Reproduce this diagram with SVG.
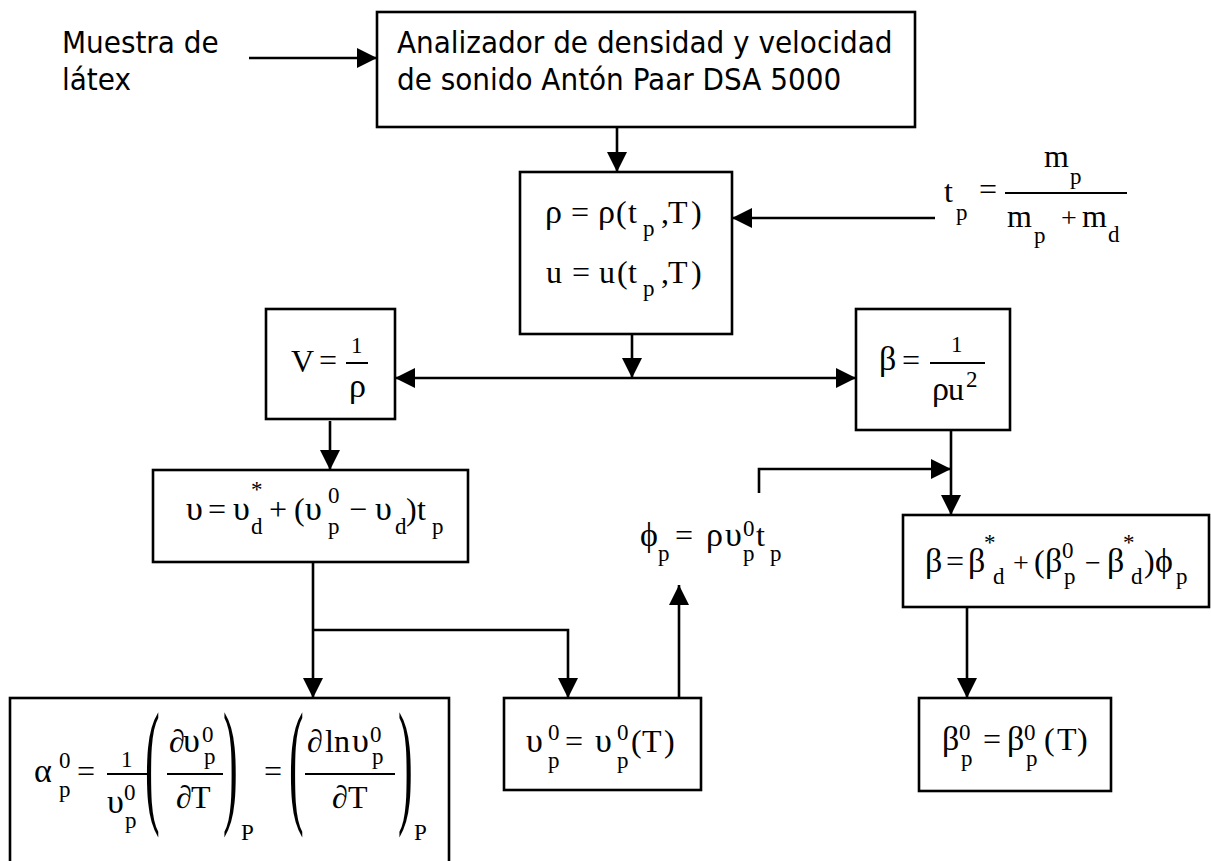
<svg xmlns="http://www.w3.org/2000/svg" width="1211" height="861" viewBox="0 0 1211 861">
  <style>
    .box { fill: #fff; stroke: #000; stroke-width: 2.6; }
    .ln { fill: none; stroke: #000; stroke-width: 2.6; }
    .fr { stroke: #000; stroke-width: 2; }
    .arr { marker-end: url(#ah); }
    .t { font-family: "DejaVu Sans Condensed", "DejaVu Sans", sans-serif; font-size: 31px; fill: #000; }
    .m { font-family: "Liberation Serif", "Times New Roman", serif; font-size: 32px; fill: #000; }
    .g { font-size: 34px; }
    .s { font-size: 23px; }
    .op { font-size: 28px; }
    .big { font-family: "Liberation Serif", "Times New Roman", serif; font-size: 138px; fill: #000; }
  </style>
  <defs>
    <marker id="ah" viewBox="0 0 20 20" markerWidth="20" markerHeight="20" refX="20" refY="10" orient="auto" markerUnits="userSpaceOnUse">
      <path d="M0,0 L20,10 L0,20 z" fill="#000"/>
    </marker>
  </defs>
  <rect x="0" y="0" width="1211" height="861" fill="#fff"/>

  <!-- connectors -->
  <g id="connectors">
    <line class="ln arr" x1="249" y1="58" x2="377" y2="58"/>
    <line class="ln arr" x1="617" y1="127" x2="617" y2="172"/>
    <line class="ln arr" x1="935" y1="218" x2="732" y2="218"/>
    <line class="ln arr" x1="632" y1="334" x2="632" y2="378"/>
    <line class="ln arr" x1="632" y1="378" x2="395" y2="378"/>
    <line class="ln arr" x1="632" y1="378" x2="856" y2="378"/>
    <line class="ln arr" x1="330" y1="421" x2="330" y2="470"/>
    <line class="ln arr" x1="313" y1="562" x2="313" y2="698"/>
    <polyline class="ln arr" points="313,630 568,630 568,698"/>
    <line class="ln arr" x1="679" y1="698" x2="679" y2="585"/>
    <polyline class="ln arr" points="759,493 759,469 951,469"/>
    <line class="ln arr" x1="951" y1="423" x2="951" y2="515"/>
    <line class="ln arr" x1="967" y1="607" x2="967" y2="698"/>
  </g>

  <!-- sample input label -->
  <g id="muestra">
    <text class="t" x="62" y="53">Muestra de</text>
    <text class="t" x="62" y="90">látex</text>
  </g>

  <!-- analyser -->
  <g id="analizador">
    <rect class="box" x="377" y="12" width="538" height="115"/>
    <text class="t" x="397" y="53">Analizador de densidad y velocidad</text>
    <text class="t" x="397" y="90">de sonido Antón Paar DSA 5000</text>
  </g>

  <!-- mass fraction -->
  <g id="tp">
    <text class="m">
      <tspan x="944" y="202">t</tspan>
      <tspan class="s" x="956" y="220">p</tspan>
      <tspan x="979" y="200">=</tspan>
      <tspan x="1044" y="167">m</tspan>
      <tspan class="s" x="1070" y="184">p</tspan>
      <tspan x="1007" y="227">m</tspan>
      <tspan class="s" x="1034" y="243">p</tspan>
      <tspan class="op" x="1061" y="227">+</tspan>
      <tspan x="1082" y="227">m</tspan>
      <tspan class="s" x="1108" y="242">d</tspan>
    </text>
    <line class="fr" x1="1005" y1="193" x2="1127" y2="193"/>
  </g>

  <!-- density and speed of sound -->
  <g id="rho-u">
    <rect class="box" x="520" y="172" width="212" height="162"/>
    <text class="m">
      <tspan class="g" x="545" y="223">ρ</tspan>
      <tspan x="571" y="223">=</tspan>
      <tspan class="g" x="598" y="223">ρ</tspan>
      <tspan x="616" y="223">(</tspan>
      <tspan x="628" y="223">t</tspan>
      <tspan class="s" x="643" y="236">p</tspan>
      <tspan x="661" y="223">,</tspan>
      <tspan x="668" y="223">T</tspan>
      <tspan x="691" y="223">)</tspan>
    </text>
    <text class="m">
      <tspan x="546" y="283">u</tspan>
      <tspan x="572" y="283">=</tspan>
      <tspan x="599" y="283">u</tspan>
      <tspan x="617" y="283">(</tspan>
      <tspan x="628" y="283">t</tspan>
      <tspan class="s" x="643" y="296">p</tspan>
      <tspan x="661" y="283">,</tspan>
      <tspan x="668" y="283">T</tspan>
      <tspan x="691" y="283">)</tspan>
    </text>
  </g>

  <!-- specific volume -->
  <g id="volumen">
    <rect class="box" x="266" y="309" width="129" height="110"/>
    <text class="m">
      <tspan x="291" y="372">V</tspan>
      <tspan x="319" y="371">=</tspan>
      <tspan class="s" x="351" y="353">1</tspan>
      <tspan class="g" x="349" y="397">ρ</tspan>
    </text>
    <line class="fr" x1="346" y1="363" x2="368" y2="363"/>
  </g>

  <!-- compressibility -->
  <g id="beta">
    <rect class="box" x="856" y="309" width="154" height="121"/>
    <text class="m">
      <tspan class="g" x="879" y="370">β</tspan>
      <tspan x="902" y="371">=</tspan>
      <tspan class="s" x="951" y="352">1</tspan>
      <tspan class="g" x="932" y="400">ρ</tspan>
      <tspan x="948" y="400">u</tspan>
      <tspan class="s" x="966" y="387">2</tspan>
    </text>
    <line class="fr" x1="930" y1="363" x2="985" y2="363"/>
  </g>

  <!-- specific volume of the mixture -->
  <g id="upsilon">
    <rect class="box" x="153" y="470" width="315" height="92"/>
    <text class="m">
      <tspan class="g" x="186" y="520">υ</tspan>
      <tspan x="208" y="520">=</tspan>
      <tspan class="g" x="233" y="520">υ</tspan>
      <tspan class="s" x="251" y="497">*</tspan>
      <tspan class="s" x="251" y="534">d</tspan>
      <tspan x="269" y="520">+</tspan>
      <tspan x="294" y="520">(</tspan>
      <tspan class="g" x="305" y="520">υ</tspan>
      <tspan class="s" x="328" y="503">0</tspan>
      <tspan class="s" x="328" y="534">p</tspan>
      <tspan x="349" y="520">−</tspan>
      <tspan class="g" x="375" y="520">υ</tspan>
      <tspan class="s" x="395" y="534">d</tspan>
      <tspan x="406" y="520">)</tspan>
      <tspan x="417" y="520">t</tspan>
      <tspan class="s" x="432" y="534">p</tspan>
    </text>
  </g>

  <!-- volume fraction -->
  <g id="phi">
    <text class="m">
      <tspan class="g" x="640" y="546">ϕ</tspan>
      <tspan class="s" x="658" y="561">p</tspan>
      <tspan x="675" y="546">=</tspan>
      <tspan class="g" x="706" y="546">ρ</tspan>
      <tspan class="g" x="725" y="546">υ</tspan>
      <tspan class="s" x="743" y="536">0</tspan>
      <tspan class="s" x="743" y="561">p</tspan>
      <tspan x="756" y="546">t</tspan>
      <tspan class="s" x="770" y="561">p</tspan>
    </text>
  </g>

  <!-- compressibility of the mixture -->
  <g id="beta-mezcla">
    <rect class="box" x="903" y="515" width="306" height="92"/>
    <text class="m">
      <tspan class="g" x="925" y="572">β</tspan>
      <tspan x="946" y="572">=</tspan>
      <tspan class="g" x="968" y="572">β</tspan>
      <tspan class="s" x="984" y="550">*</tspan>
      <tspan class="s" x="993" y="584">d</tspan>
      <tspan class="op" x="1013" y="572">+</tspan>
      <tspan x="1034" y="572">(</tspan>
      <tspan class="g" x="1045" y="572">β</tspan>
      <tspan class="s" x="1062" y="558">0</tspan>
      <tspan class="s" x="1064" y="584">p</tspan>
      <tspan class="op" x="1085" y="572">−</tspan>
      <tspan class="g" x="1107" y="572">β</tspan>
      <tspan class="s" x="1123" y="550">*</tspan>
      <tspan class="s" x="1131" y="584">d</tspan>
      <tspan x="1144" y="572">)</tspan>
      <tspan class="g" x="1155" y="572">ϕ</tspan>
      <tspan class="s" x="1176" y="584">p</tspan>
    </text>
  </g>

  <!-- thermal expansion coefficient -->
  <g id="alfa">
    <rect class="box" x="10" y="698" width="439" height="175"/>
    <text class="m">
      <tspan class="g" x="34" y="782">α</tspan>
      <tspan class="s" x="59" y="768">0</tspan>
      <tspan class="s" x="59" y="797">p</tspan>
      <tspan x="77" y="782">=</tspan>
      <tspan class="s" x="121" y="767">1</tspan>
      <tspan class="g" x="107" y="813">υ</tspan>
      <tspan class="s" x="124" y="800">0</tspan>
      <tspan class="s" x="125" y="828">p</tspan>
      <tspan x="169" y="752">∂</tspan>
      <tspan class="g" x="183" y="752">υ</tspan>
      <tspan class="s" x="202" y="742">0</tspan>
      <tspan class="s" x="204" y="764">p</tspan>
      <tspan x="176" y="808">∂</tspan>
      <tspan x="191" y="808">T</tspan>
      <tspan class="s" x="241" y="840">P</tspan>
      <tspan x="264" y="782">=</tspan>
      <tspan x="307" y="752">∂</tspan>
      <tspan x="325" y="752">ln</tspan>
      <tspan class="g" x="352" y="752">υ</tspan>
      <tspan class="s" x="370" y="742">0</tspan>
      <tspan class="s" x="372" y="764">p</tspan>
      <tspan x="332" y="808">∂</tspan>
      <tspan x="348" y="808">T</tspan>
      <tspan class="s" x="414" y="840">P</tspan>
    </text>
    <line class="fr" x1="107" y1="774" x2="147" y2="774"/>
    <line class="fr" x1="167" y1="774" x2="223" y2="774"/>
    <line class="fr" x1="305" y1="774" x2="395" y2="774"/>
    <text class="big" transform="translate(145 808) scale(0.32 1)">(</text>
    <text class="big" transform="translate(223 808) scale(0.32 1)">)</text>
    <text class="big" transform="translate(289 808) scale(0.32 1)">(</text>
    <text class="big" transform="translate(398 808) scale(0.32 1)">)</text>
  </g>

  <!-- limiting specific volume -->
  <g id="upsilon0">
    <rect class="box" x="504" y="698" width="197" height="92"/>
    <text class="m">
      <tspan class="g" x="526" y="752">υ</tspan>
      <tspan class="s" x="548" y="740">0</tspan>
      <tspan class="s" x="548" y="768">p</tspan>
      <tspan x="565" y="752">=</tspan>
      <tspan class="g" x="595" y="752">υ</tspan>
      <tspan class="s" x="617" y="740">0</tspan>
      <tspan class="s" x="617" y="768">p</tspan>
      <tspan x="631" y="752">(</tspan>
      <tspan x="642" y="752">T</tspan>
      <tspan x="664" y="752">)</tspan>
    </text>
  </g>

  <!-- limiting compressibility -->
  <g id="beta0">
    <rect class="box" x="919" y="698" width="192" height="93"/>
    <text class="m">
      <tspan class="g" x="942" y="750">β</tspan>
      <tspan class="s" x="959" y="740">0</tspan>
      <tspan class="s" x="961" y="766">p</tspan>
      <tspan x="983" y="750">=</tspan>
      <tspan class="g" x="1007" y="750">β</tspan>
      <tspan class="s" x="1024" y="740">0</tspan>
      <tspan class="s" x="1026" y="766">p</tspan>
      <tspan x="1044" y="750">(</tspan>
      <tspan x="1057" y="750">T</tspan>
      <tspan x="1077" y="750">)</tspan>
    </text>
  </g>
</svg>
